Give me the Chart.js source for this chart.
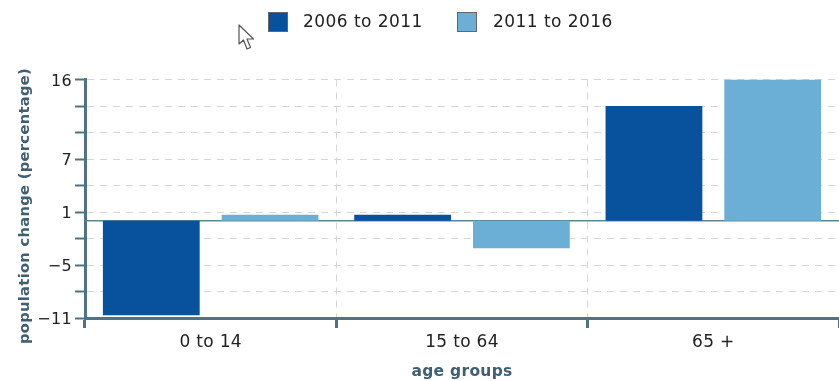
<!DOCTYPE html>
<html>
<head>
<meta charset="utf-8">
<title>Population change by age group</title>
<script src="https://cdn.jsdelivr.net/npm/chart.js@4"></script>
<style>
  html, body { margin: 0; padding: 0; background: #fff; }
  #wrap { position: relative; width: 839px; height: 381px; overflow: hidden; }
  #legend { position: absolute; top: 0; left: 0; font: 17px "DejaVu Sans", sans-serif; letter-spacing: 0.45px; color: #222; }
  #legend span { position: absolute; top: 11px; white-space: nowrap; line-height: 20px; }
  #legend i { position: absolute; top: 12px; width: 18px; height: 18px; border: 1px solid #666; }
  #cursor { position: absolute; left: 238px; top: 24px; }
</style>
</head>
<body>
<div id="wrap">
  <canvas id="chartCanvas" width="839" height="381"></canvas>
  <div id="legend"></div>
  <svg id="cursor" width="20" height="28" viewBox="0 0 20 28">
    <path d="M1 1 L1 20 L5.5 16 L9 25 L12.5 23.5 L9 15 L15.5 15 Z" fill="#fff" stroke="#555" stroke-width="1.2" stroke-linejoin="round"/>
  </svg>
</div>
<script>
const categories = ['0 to 14', '15 to 64', '65 +'];
const period1 = [-10.7, 0.7, 13];
const period2 = [0.7, -3.1, 16];
const yTickValues = [-11, -8, -5, -2, 1, 4, 7, 10, 13, 16];
const yLabelled = [-11, -5, 1, 7, 16];

const AXIS = '#4d7385';
const GRID = '#d6d6d6';
const TITLE = '#3f5f73';
const FONT = '"DejaVu Sans", sans-serif';

// thin line at zero, behind the bars
const zeroLine = {
  id: 'zeroLine',
  beforeDatasetsDraw(chart) {
    const { ctx, chartArea, scales } = chart;
    const y = scales.y.getPixelForValue(0);
    ctx.save();
    ctx.strokeStyle = '#5f8593';
    ctx.lineWidth = 1.5;
    ctx.beginPath();
    ctx.moveTo(chartArea.left, y);
    ctx.lineTo(chartArea.right, y);
    ctx.stroke();
    ctx.restore();
  }
};

// legend lives in the DOM so the swatch/text spacing can be set freely
const htmlLegend = {
  id: 'htmlLegend',
  afterInit(chart) {
    const box = document.getElementById('legend');
    const slots = [{ swatch: 268, text: 303 }, { swatch: 457, text: 493 }];
    chart.data.datasets.forEach((ds, i) => {
      const sw = document.createElement('i');
      sw.style.left = slots[i].swatch + 'px';
      sw.style.background = ds.backgroundColor;
      const label = document.createElement('span');
      label.style.left = slots[i].text + 'px';
      label.textContent = ds.label;
      box.append(sw, label);
    });
  }
};

// wider tracking, and y labels nudged down a touch
const textTweaks = {
  id: 'textTweaks',
  beforeDraw(chart) {
    chart.ctx.letterSpacing = '0.3px';
    chart.scales.y.getLabelItems().forEach((item) => { item.textOffset += 2; });
  }
};

// y title sits lower than the axis centre, so it is drawn by hand
const yTitle = {
  id: 'yTitle',
  afterDraw(chart) {
    const { ctx } = chart;
    ctx.save();
    ctx.translate(25, 206);
    ctx.rotate(-Math.PI / 2);
    ctx.font = 'bold 14.7px ' + FONT;
    ctx.fillStyle = TITLE;
    ctx.textAlign = 'center';
    ctx.textBaseline = 'middle';
    ctx.fillText('population change (percentage)', 0, 0);
    ctx.restore();
  }
};

new Chart(document.getElementById('chartCanvas'), {
  type: 'bar',
  data: {
    labels: categories,
    datasets: [
      { label: '2006 to 2011', data: period1, backgroundColor: '#08519c' },
      { label: '2011 to 2016', data: period2, backgroundColor: '#6baed6' }
    ]
  },
  options: {
    responsive: false,
    animation: false,
    layout: { padding: { top: 79.5, left: 0, right: 0, bottom: 0 } },
    plugins: { legend: { display: false }, tooltip: { enabled: false } },
    datasets: { bar: { categoryPercentage: 0.945, barPercentage: 0.815 } },
    scales: {
      x: {
        afterFit: (scale) => { scale.height = 63; },
        border: { color: AXIS, width: 3, dash: [7, 6] },
        grid: {
          color: GRID,
          tickColor: AXIS,
          tickWidth: 3,
          tickLength: 10,
          tickBorderDash: []
        },
        ticks: { color: '#222', font: { family: FONT, size: 17 }, padding: 4, maxRotation: 0 },
        title: {
          display: true,
          text: 'age groups',
          color: TITLE,
          font: { family: FONT, size: 15.5, weight: 'bold' },
          padding: { top: 5, bottom: 0 }
        }
      },
      y: {
        min: -11,
        max: 16,
        afterBuildTicks: (scale) => { scale.ticks = yTickValues.map((value) => ({ value })); },
        afterFit: (scale) => { scale.width = 85; },
        border: { color: AXIS, width: 3, dash: [7, 6] },
        grid: {
          color: GRID,
          tickColor: AXIS,
          tickWidth: 2,
          tickLength: 10,
          tickBorderDash: []
        },
        ticks: {
          autoSkip: false,
          color: '#222',
          font: { family: FONT, size: 16 },
          padding: 3,
          callback: (v) => (yLabelled.includes(v) ? String(v).replace('-', '\u2212') : '')
        }
      }
    }
  },
  plugins: [textTweaks, zeroLine, yTitle, htmlLegend]
});
</script>
</body>
</html>
